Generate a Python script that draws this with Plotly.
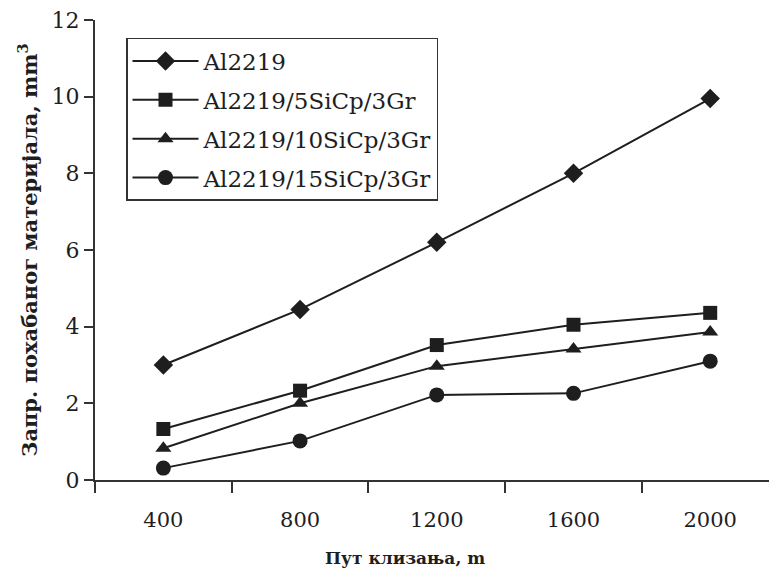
import plotly.graph_objects as go

distance = ["400", "800", "1200", "1600", "2000"]
series_names = ["Al2219", "Al2219/5SiCp/3Gr", "Al2219/10SiCp/3Gr", "Al2219/15SiCp/3Gr"]
al2219 = [3.0, 4.45, 6.2, 8.0, 9.95]
sic5 = [1.33, 2.33, 3.52, 4.05, 4.36]
sic10 = [0.83, 2.0, 2.97, 3.42, 3.86]
sic15 = [0.31, 1.02, 2.22, 2.26, 3.1]
y_ticks = [0, 2, 4, 6, 8, 10, 12]

series_values = [al2219, sic5, sic10, sic15]
symbols = ["diamond", "square", "triangle-up", "circle"]
sizes = [15, 14, 14, 15]

SERIF = "DejaVu Serif"
INK = "#1e1e1e"

fig = go.Figure()
for i, (name, vals) in enumerate(zip(series_names, series_values)):
    fig.add_trace(go.Scatter(
        x=distance, y=vals, name=name, mode="lines+markers",
        legendgroup=f"g{i}",
        line=dict(color=INK, width=2),
        marker=dict(symbol=symbols[i], size=sizes[i], color=INK),
    ))

fig.update_layout(
    width=769, height=575,
    margin=dict(l=95, r=0, t=20, b=95),
    paper_bgcolor="white", plot_bgcolor="white",
    font=dict(family=SERIF, color=INK),
    showlegend=True,
    legend=dict(
        x=0.046, y=0.961, xanchor="left", yanchor="top",
        bordercolor="#333", borderwidth=1.5, bgcolor="white",
        font=dict(family=SERIF, size=23, color=INK),
        tracegroupgap=6, itemwidth=66,
    ),
    xaxis=dict(
        type="category", range=[-0.5, 4.43], tickson="boundaries",
        ticks="outside", ticklen=11, tickwidth=2, tickcolor="#333",
        showline=True, linecolor="#333", linewidth=2, showgrid=False, zeroline=False,
        tickfont=dict(family=SERIF, size=21, color=INK), ticklabelstandoff=20,
    ),
    yaxis=dict(
        range=[0, 12], tickvals=y_ticks, ticks="outside", ticklen=9, tickwidth=2, tickcolor="#333",
        showline=True, linecolor="#333", linewidth=2, showgrid=False, zeroline=False,
        tickfont=dict(family=SERIF, size=22, color=INK),
        title=dict(text="<b>Запр. похабаног материјала, mm<sup>3</sup></b>",
                   font=dict(family=SERIF, size=21, color=INK), standoff=8),
    ),
    annotations=[dict(
        text="<b>Пут клизања, m</b>", xref="paper", yref="paper",
        x=(405 - 95) / 674, y=-0.17, xanchor="center", yanchor="middle",
        showarrow=False, font=dict(family=SERIF, size=17, color=INK),
    )],
)

fig.write_html("out.html")
